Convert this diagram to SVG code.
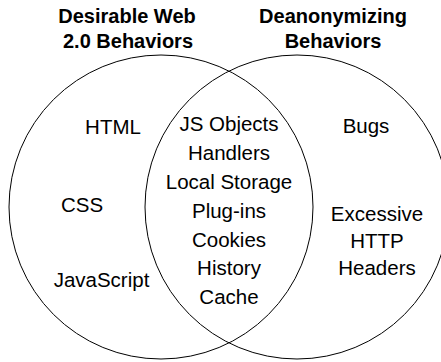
<svg xmlns="http://www.w3.org/2000/svg" width="441" height="362" viewBox="0 0 441 362">
  <style>
    .ring { fill: none; stroke: #000; stroke-width: 1; }
    .title { font-family: "Liberation Sans", Arial, sans-serif; font-size: 20px; font-weight: bold; fill: #000; text-anchor: middle; }
    .item { font-family: "Liberation Sans", Arial, sans-serif; font-size: 20.5px; fill: #000; text-anchor: middle; }
  </style>
  <rect width="441" height="362" fill="#fff"/>

  <!-- Left set: desirable Web 2.0 behaviors -->
  <g id="set-desirable">
    <circle class="ring" cx="161" cy="207" r="152"/>
    <text class="title" x="127" y="23">Desirable Web</text>
    <text class="title" x="128" y="48">2.0 Behaviors</text>
    <text class="item" x="113" y="134">HTML</text>
    <text class="item" x="82" y="212">CSS</text>
    <text class="item" x="101.5" y="287">JavaScript</text>
  </g>

  <!-- Right set: deanonymizing behaviors -->
  <g id="set-deanonymizing">
    <circle class="ring" cx="297" cy="207" r="152"/>
    <text class="title" x="333" y="23">Deanonymizing</text>
    <text class="title" x="333" y="48">Behaviors</text>
    <text class="item" x="366" y="133">Bugs</text>
    <text class="item" x="377" y="221">Excessive</text>
    <text class="item" x="377" y="248">HTTP</text>
    <text class="item" x="377" y="275">Headers</text>
  </g>

  <!-- Overlap of both sets -->
  <g id="overlap">
    <text class="item" x="229" y="131">JS Objects</text>
    <text class="item" x="229" y="160">Handlers</text>
    <text class="item" x="229" y="189">Local Storage</text>
    <text class="item" x="229" y="218">Plug-ins</text>
    <text class="item" x="229" y="247">Cookies</text>
    <text class="item" x="229" y="275">History</text>
    <text class="item" x="229" y="304">Cache</text>
  </g>

  <g id="connectors"></g>
</svg>
